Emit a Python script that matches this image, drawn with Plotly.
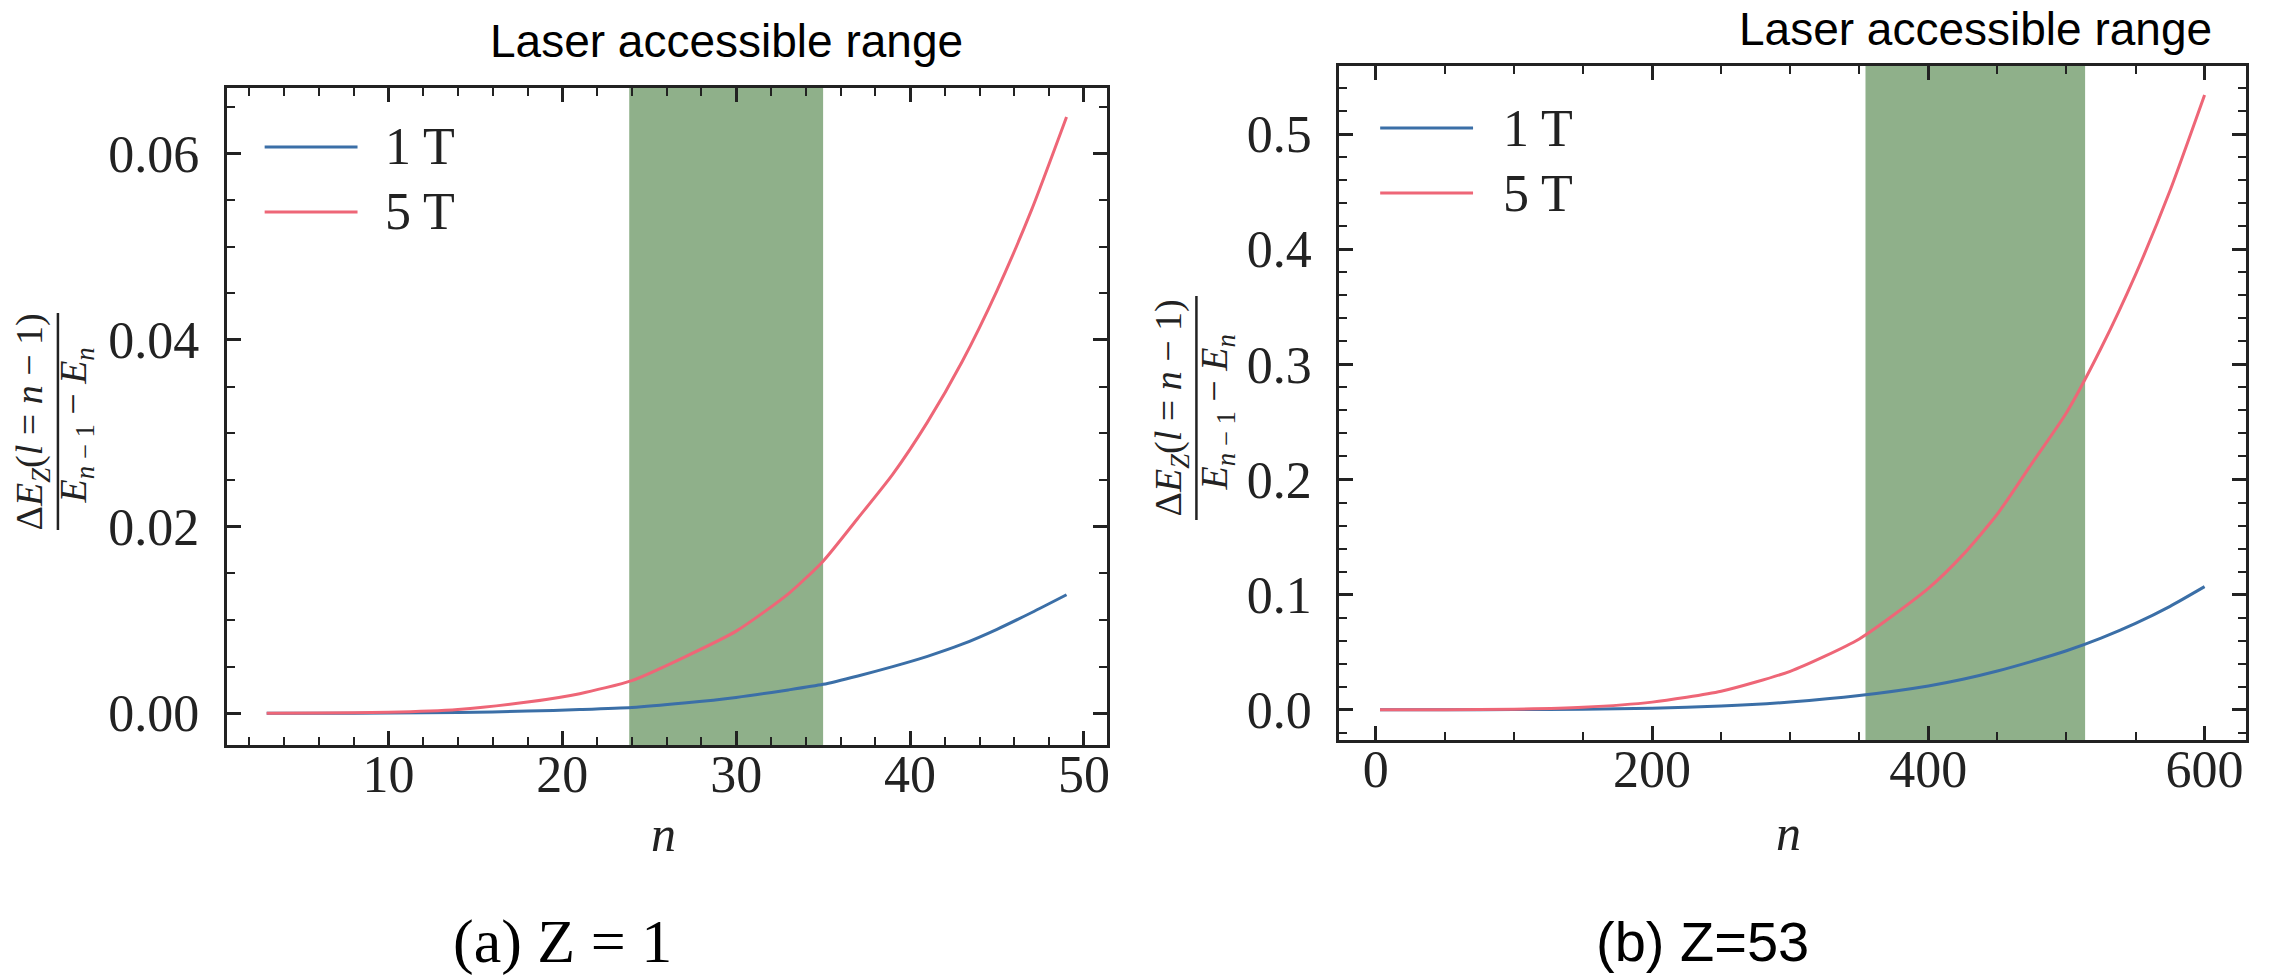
import plotly.graph_objects as go

# ---------------- data ----------------
SERIES_NAMES = ["1 T", "5 T"]
COLORS = ["#3B6FA7", "#EE6677"]
BAND_COLOR = "#8FB08A"

# panel (a) Z = 1
N_LEFT = [3, 6, 10, 14, 18, 21, 24, 27, 30, 33, 35, 37, 39, 41, 43, 45, 47, 49]
E_1T_LEFT = [0.0, 0.0, 0.00002, 0.00008, 0.00023, 0.00040, 0.00062, 0.00110, 0.00170,
             0.00250, 0.00310, 0.00400, 0.00500, 0.00610, 0.00740, 0.00900, 0.01080, 0.01270]
E_5T_LEFT = [0.0, 0.00002, 0.0001, 0.0004, 0.0012, 0.0021, 0.0035, 0.0060, 0.0088,
             0.0128, 0.0163, 0.0209, 0.0256, 0.0312, 0.0377, 0.0453, 0.0540, 0.0639]
BAND_LEFT = [23.85, 35.0]

# panel (b) Z = 53
N_RIGHT = [3, 50, 100, 150, 200, 250, 300, 350, 400, 425, 450, 475, 500, 525, 550, 575, 600]
E_1T_RIGHT = [0.0, 0.0, 0.0001, 0.0004, 0.0013, 0.0032, 0.0067, 0.0123, 0.0206, 0.0264,
              0.0336, 0.0420, 0.0512, 0.0622, 0.0750, 0.0898, 0.1069]
E_5T_RIGHT = [0.0, 0.00002, 0.0004, 0.0021, 0.0066, 0.0160, 0.0334, 0.0615, 0.1054, 0.1345,
              0.1700, 0.2140, 0.2580, 0.3140, 0.3780, 0.4510, 0.5340]
BAND_RIGHT = [354.5, 513.5]

X_TICKS_LEFT = [10, 20, 30, 40, 50]
Y_TICKS_LEFT = [0.0, 0.02, 0.04, 0.06]
X_TICKS_RIGHT = [0, 200, 400, 600]
Y_TICKS_RIGHT = [0.0, 0.1, 0.2, 0.3, 0.4, 0.5]

TITLE_TEXT = "Laser accessible range"
CAPTIONS = ["(a) Z = 1", "(b) Z=53"]
NUMERATOR = "Δ<i>E</i><sub><i>Z</i></sub>(<i>l</i> = <i>n</i> − 1)"
DENOMINATOR = "<i>E</i><sub><i>n</i> − 1</sub> − <i>E</i><sub><i>n</i></sub>"

# ---------------- layout helpers ----------------
W, H = 2270, 977


def fx(p):
    return p / W


def fy(p):
    return 1 - p / H


INK = "#222222"
SERIF = "Liberation Serif, Times New Roman, serif"
SANS = "Liberation Sans, Arial, sans-serif"

fig = go.Figure()

panels = [
    dict(n=N_LEFT, ys=[E_1T_LEFT, E_5T_LEFT], xa="x", ya="y"),
    dict(n=N_RIGHT, ys=[E_1T_RIGHT, E_5T_RIGHT], xa="x2", ya="y2"),
]
for p in panels:
    for name, col, yv in zip(SERIES_NAMES, COLORS, p["ys"]):
        fig.add_trace(go.Scatter(
            x=p["n"], y=yv, mode="lines", name=name, showlegend=False,
            line=dict(color=col, width=3, shape="spline", smoothing=0.6),
            xaxis=p["xa"], yaxis=p["ya"]))


def axis_common(**kw):
    d = dict(
        showline=True, linecolor=INK, linewidth=3, mirror="allticks",
        ticks="inside", ticklen=14, tickwidth=2.5, tickcolor=INK,
        showgrid=False, zeroline=False,
        tickfont=dict(family=SERIF, size=52, color=INK),
    )
    d.update(kw)
    return d


fig.update_layout(
    width=W, height=H, autosize=False,
    margin=dict(l=0, r=0, t=0, b=0),
    paper_bgcolor="white", plot_bgcolor="white",
    showlegend=False,
    xaxis=axis_common(
        domain=[fx(227), fx(1108)], anchor="y", range=[0.7, 51.3],
        tickmode="array", tickvals=X_TICKS_LEFT,
        ticktext=[str(v) for v in X_TICKS_LEFT], ticklabelstandoff=-18,
        minor=dict(ticks="inside", ticklen=8, tickwidth=2, tickcolor=INK,
                   tickmode="linear", tick0=0, dtick=2, showgrid=False)),
    yaxis=axis_common(
        domain=[fy(745), fy(88)], anchor="x", range=[-0.0034, 0.067],
        tickmode="array", tickvals=Y_TICKS_LEFT,
        ticktext=[f"{v:.2f}" for v in Y_TICKS_LEFT], ticklabelstandoff=14,
        minor=dict(ticks="inside", ticklen=8, tickwidth=2, tickcolor=INK,
                   tickmode="linear", tick0=0, dtick=0.005, showgrid=False)),
    xaxis2=axis_common(
        domain=[fx(1341), fx(2249)], anchor="y2", range=[-26.5, 630],
        tickmode="array", tickvals=X_TICKS_RIGHT,
        ticktext=[str(v) for v in X_TICKS_RIGHT], ticklabelstandoff=-18,
        minor=dict(ticks="inside", ticklen=8, tickwidth=2, tickcolor=INK,
                   tickmode="linear", tick0=0, dtick=50, showgrid=False)),
    yaxis2=axis_common(
        domain=[fy(740), fy(66)], anchor="x2", range=[-0.0263, 0.5592],
        tickmode="array", tickvals=Y_TICKS_RIGHT,
        ticktext=[f"{v:.1f}" for v in Y_TICKS_RIGHT], ticklabelstandoff=14,
        minor=dict(ticks="inside", ticklen=8, tickwidth=2, tickcolor=INK,
                   tickmode="linear", tick0=0, dtick=0.02, showgrid=False)),
)

shapes = []
annotations = []

# laser-accessible bands + titles above them
for band, xr, yr, title_y in [(BAND_LEFT, "x", "y", 41), (BAND_RIGHT, "x2", "y2", 29)]:
    shapes.append(dict(type="rect", xref=xr, yref=f"{yr} domain",
                       x0=band[0], x1=band[1], y0=0, y1=1,
                       fillcolor=BAND_COLOR, line=dict(width=0), layer="below"))
    annotations.append(dict(text=TITLE_TEXT, xref=xr, yref="paper",
                            x=(band[0] + band[1]) / 2, y=fy(title_y),
                            xanchor="center", yanchor="middle", showarrow=False,
                            font=dict(family=SANS, size=46, color="black")))

# manual legends (long line samples as in the reference)
for (lx0, lx1, ly, tx) in [(265, 358, [147, 212], 384), (1382, 1475, [128, 193], 1503)]:
    for name, col, yy in zip(SERIES_NAMES, COLORS, ly):
        shapes.append(dict(type="line", xref="paper", yref="paper",
                           x0=fx(lx0), x1=fx(lx1), y0=fy(yy), y1=fy(yy),
                           line=dict(color=col, width=3)))
        annotations.append(dict(text=name, xref="paper", yref="paper",
                                x=fx(tx), y=fy(yy), xanchor="left", yanchor="middle",
                                showarrow=False,
                                font=dict(family=SERIF, size=52, color=INK)))

# y-axis fraction labels
for (nx, bx, dx, y0, y1) in [(33, 58, 77, 313, 530), (1173, 1198, 1219, 296, 520)]:
    yc = (y0 + y1) / 2
    shapes.append(dict(type="line", xref="paper", yref="paper",
                       x0=fx(bx), x1=fx(bx), y0=fy(y0), y1=fy(y1),
                       line=dict(color=INK, width=2.5)))
    annotations.append(dict(text=NUMERATOR, xref="paper", yref="paper",
                            x=fx(nx), y=fy(yc), textangle=-90,
                            xanchor="center", yanchor="middle", showarrow=False,
                            font=dict(family=SERIF, size=38, color=INK)))
    annotations.append(dict(text=DENOMINATOR, xref="paper", yref="paper",
                            x=fx(dx), y=fy(yc + 4), textangle=-90,
                            xanchor="center", yanchor="middle", showarrow=False,
                            font=dict(family=SERIF, size=38, color=INK)))

# x-axis titles
for (xx, yy) in [(664, 834), (1791, 833)]:
    annotations.append(dict(text="<i>n</i>", xref="paper", yref="paper",
                            x=fx(xx), y=fy(yy), xanchor="center", yanchor="middle",
                            showarrow=False,
                            font=dict(family=SERIF, size=50, color=INK)))

# captions
annotations.append(dict(text=CAPTIONS[0], xref="paper", yref="paper",
                        x=fx(563), y=fy(941), xanchor="center", yanchor="middle",
                        showarrow=False, font=dict(family=SERIF, size=62, color="black")))
annotations.append(dict(text=CAPTIONS[1], xref="paper", yref="paper",
                        x=fx(1705), y=fy(941), xanchor="center", yanchor="middle",
                        showarrow=False, font=dict(family=SANS, size=56, color="black")))

fig.update_layout(shapes=shapes, annotations=annotations)
fig.write_html("out.html",
               config={"displayModeBar": False},
               post_script="document.body.style.margin='0';document.body.style.padding='0';")
